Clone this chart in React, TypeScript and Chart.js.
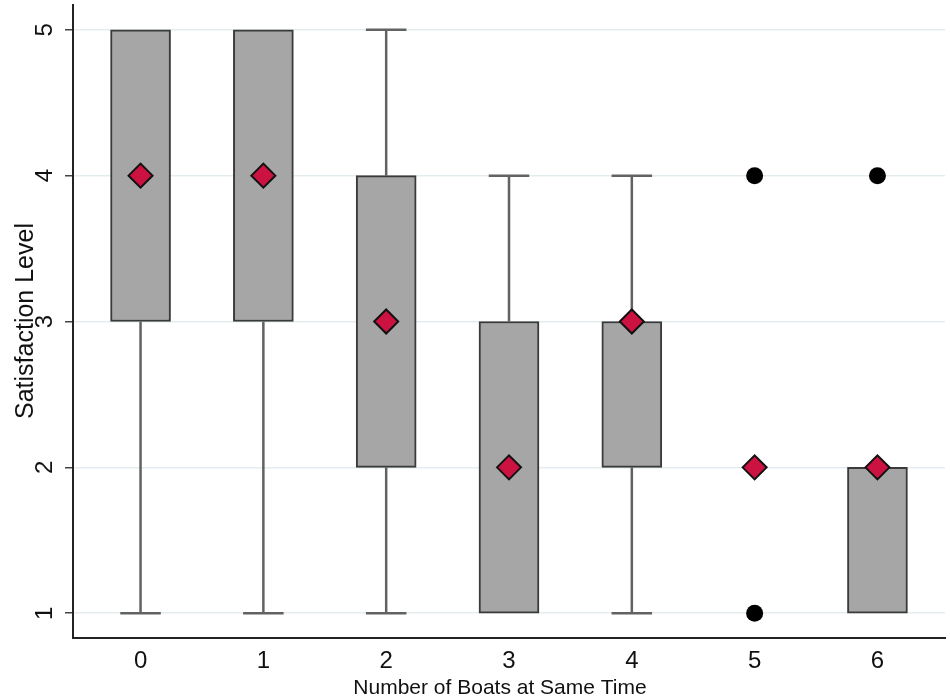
import { useEffect, useRef } from "react";
import { Chart, registerables } from "chart.js";
import type { Plugin } from "chart.js";

Chart.register(...registerables);

// boats at same time
const groups = [0, 1, 2, 3, 4, 5, 6];
// box edges (null = no box drawn)
const q1 = [3, 3, 2, 1, 2, null, 1];
const q3 = [5, 5, 4, 3, 3, null, 2];
// whisker ends (null = no whisker)
const whiskLow = [1, 1, 1, null, 1, null, null];
const whiskHigh = [null, null, 5, 4, 4, null, null];
// means
const means = [4, 4, 3, 2, 3, 2, 2];
// outside values
const outlierX = [5, 5, 6];
const outlierY = [4, 1, 4];

const yTicks = [1, 2, 3, 4, 5];

const FONT = "'Liberation Sans', Arial, Helvetica, sans-serif";

const boxPlugin: Plugin = {
  id: "boxExtras",
  afterDatasetDraw(chart, args) {
    if (args.index !== 0) return;
    const ctx = chart.ctx;
    const xs = chart.scales.x;
    const ys = chart.scales.y;
    const capHalf = (xs.getPixelForValue(1) - xs.getPixelForValue(0)) * 0.165;
    ctx.save();
    ctx.strokeStyle = "#626262";
    ctx.lineWidth = 2.5;
    groups.forEach((g, i) => {
      const px = xs.getPixelForValue(g);
      const lo = whiskLow[i];
      const hi = whiskHigh[i];
      if (lo !== null && q1[i] !== null) {
        const a = ys.getPixelForValue(q1[i] as number);
        const b = ys.getPixelForValue(lo);
        ctx.beginPath();
        ctx.moveTo(px, a);
        ctx.lineTo(px, b);
        ctx.moveTo(px - capHalf, b);
        ctx.lineTo(px + capHalf, b);
        ctx.stroke();
      }
      if (hi !== null && q3[i] !== null) {
        const a = ys.getPixelForValue(q3[i] as number);
        const b = ys.getPixelForValue(hi);
        ctx.beginPath();
        ctx.moveTo(px, a);
        ctx.lineTo(px, b);
        ctx.moveTo(px - capHalf, b);
        ctx.lineTo(px + capHalf, b);
        ctx.stroke();
      }
    });
    ctx.restore();
  },
  afterDraw(chart) {
    const ctx = chart.ctx;
    const ys = chart.scales.y;
    ctx.save();
    ctx.fillStyle = "#111111";
    ctx.textAlign = "center";
    ctx.textBaseline = "alphabetic";
    // rotated y tick labels
    ctx.font = `24px ${FONT}`;
    yTicks.forEach((v) => {
      ctx.save();
      ctx.translate(52, ys.getPixelForValue(v));
      ctx.rotate(-Math.PI / 2);
      ctx.fillText(String(v), 0, 0);
      ctx.restore();
    });
    // y title
    ctx.save();
    ctx.translate(33, 321);
    ctx.rotate(-Math.PI / 2);
    ctx.font = `25px ${FONT}`;
    ctx.fillText("Satisfaction Level", 0, 0);
    ctx.restore();
    // x title
    ctx.font = `21px ${FONT}`;
    ctx.fillText("Number of Boats at Same Time", 500, 694);
    ctx.restore();
  },
};

export default function App() {
  const canvasRef = useRef<HTMLCanvasElement | null>(null);

  useEffect(() => {
    if (!canvasRef.current) return;
    document.body.style.margin = "0";

    const boxData = groups
      .map((g, i) => (q1[i] === null ? null : { x: g, y: [q1[i], q3[i]] }))
      .filter((d) => d !== null);

    const chart = new Chart(canvasRef.current, {
      type: "bar",
      data: {
        datasets: [
          {
            type: "bar",
            label: "box",
            data: boxData as any,
            backgroundColor: "#A6A6A6",
            borderColor: "#3A3A3A",
            borderWidth: 2,
            borderSkipped: false,
            barThickness: 60,
            order: 3,
          },
          {
            type: "scatter",
            label: "mean",
            data: groups.map((g, i) => ({ x: g, y: means[i] })),
            pointStyle: "rectRot",
            pointRadius: 12,
            backgroundColor: "#CC1240",
            borderColor: "#111111",
            borderWidth: 2,
            order: 1,
          },
          {
            type: "scatter",
            label: "outside",
            data: outlierX.map((x, i) => ({ x, y: outlierY[i] })),
            pointStyle: "circle",
            pointRadius: 8.5,
            backgroundColor: "#000000",
            borderColor: "#000000",
            borderWidth: 0,
            order: 2,
          },
        ],
      },
      options: {
        animation: false,
        responsive: false,
        layout: { autoPadding: false, padding: { top: 5, right: 5, left: 0, bottom: 0 } },
        plugins: { legend: { display: false }, tooltip: { enabled: false } },
        scales: {
          x: {
            type: "linear",
            offset: false,
            min: -0.55,
            max: 6.55,
            afterBuildTicks: (scale) => {
              scale.ticks = groups.map((v) => ({ value: v }));
            },
            afterFit: (scale) => {
              scale.height = 62;
            },
            grid: { display: false, drawTicks: false },
            border: { display: true, color: "#222222", width: 2 },
            ticks: {
              padding: 9,
              color: "#111111",
              font: { family: FONT, size: 24 },
              callback: (v) => String(v),
            },
          },
          y: {
            type: "linear",
            min: 0.83,
            max: 5.17,
            afterBuildTicks: (scale) => {
              scale.ticks = yTicks.map((v) => ({ value: v }));
            },
            afterFit: (scale) => {
              scale.width = 73;
            },
            grid: {
              color: "#E3EDEF",
              lineWidth: 1.5,
              tickColor: "#444444",
              tickLength: 8,
              drawTicks: true,
            },
            border: { display: true, color: "#222222", width: 2 },
            ticks: { display: false },
          },
        },
      },
      plugins: [boxPlugin],
    });

    return () => chart.destroy();
  }, []);

  return (
    <div style={{ position: "absolute", left: 0, top: 0, width: 950, height: 700 }}>
      <canvas ref={canvasRef} width={950} height={700} style={{ width: 950, height: 700 }} />
    </div>
  );
}
